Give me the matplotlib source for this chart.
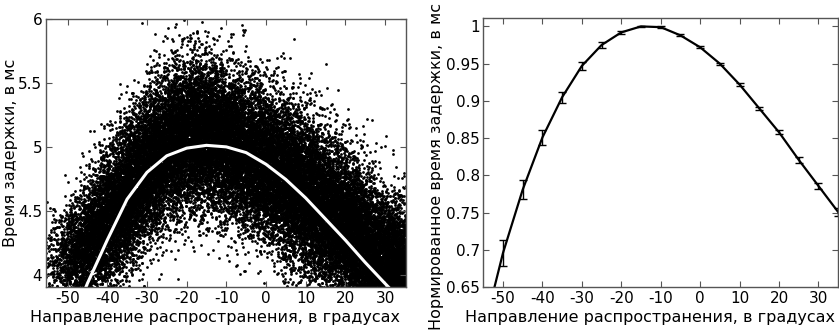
import numpy as np
import matplotlib
matplotlib.use("Agg")
import matplotlib.pyplot as plt
from matplotlib.ticker import FuncFormatter

# ---- data ----
# white mean curve on the left panel (ms)
mean_angles = [-50, -45, -40, -35, -30, -25, -20, -15, -10, -5, 0, 5, 10, 15, 20, 25, 30, 35]
mean_delay = [3.55, 3.93, 4.27, 4.59, 4.80, 4.93, 4.99, 5.012, 5.0, 4.955, 4.864,
              4.745, 4.60, 4.435, 4.27, 4.095, 3.93, 3.77]

# scatter cloud, per angle bin: cloud centre, spread and relative amount of points
cloud_angles = [-53, -48, -43, -38, -33, -28, -23, -18, -13, -8, -3, 2, 7, 12, 17, 22, 27, 32, 36]
cloud_centre = [4.1, 4.15, 4.3, 4.5, 4.72, 4.92, 5.05, 5.1, 5.08, 5.0, 4.92,
                4.82, 4.7, 4.58, 4.45, 4.3, 4.15, 4.05, 4.0]
cloud_spread = [0.18, 0.2, 0.23, 0.26, 0.28, 0.29, 0.29, 0.29, 0.29, 0.29, 0.29,
                0.29, 0.29, 0.29, 0.29, 0.28, 0.27, 0.25, 0.25]
cloud_weight = [0.12, 0.45, 0.8, 0.95, 1.0, 1.0, 1.0, 1.0, 1.0, 1.0, 1.0,
                1.05, 1.1, 1.1, 1.1, 1.1, 1.05, 1.0, 0.8]

# normalised delay with error bars on the right panel
norm_angles = [-55, -50, -45, -40, -35, -30, -25, -20, -15, -10, -5, 0, 5, 10, 15, 20, 25, 30, 35]
norm_delay = [0.59, 0.696, 0.781, 0.851, 0.905, 0.947, 0.975, 0.992, 1.0, 0.999, 0.988,
              0.972, 0.950, 0.922, 0.890, 0.858, 0.821, 0.786, 0.751]
norm_err = [0.02, 0.017, 0.013, 0.010, 0.0075, 0.005, 0.0035, 0.0025, 0.0012, 0.0012, 0.0012,
            0.0015, 0.0015, 0.002, 0.0025, 0.003, 0.004, 0.0045, 0.005]

xlabel = "Направление распространения, в градусах"

# the single points of the cloud cannot be read, so they are drawn
# around the read centre/spread of each bin (fixed seed)
rng = np.random.default_rng(3)
xs, ys = [], []
for a, c, s, w in zip(cloud_angles, cloud_centre, cloud_spread, cloud_weight):
    n = int(2000 * w)
    xs.append(a + rng.normal(0, 2.2, n))
    ys.append(c + rng.normal(0, s, n))
xs = np.concatenate(xs)
ys = np.concatenate(ys)

plt.rcParams['font.family'] = ['DejaVu Sans']
plt.rcParams['axes.unicode_minus'] = False
fig = plt.figure(figsize=(8.39, 3.31), dpi=100)

def style_axes(ax):
    ax.tick_params(direction='in', top=True, right=True, length=4, width=0.8,
                   colors='#555555', labelcolor='black', labelsize=11, pad=2.5)
    for sp in ax.spines.values():
        sp.set_color('#555555')
        sp.set_linewidth(1.0)
    ax.yaxis.set_major_formatter(FuncFormatter(lambda v, p: f"{v:g}"))

# left panel
ax1 = fig.add_axes([0.0545, 0.132, 0.429, 0.810])
ax1.scatter(xs, ys, s=4, c='black', linewidths=0)
ax1.plot(mean_angles, mean_delay, color='white', lw=2.2, solid_joinstyle='round')
ax1.set_xlim(-55.5, 35.2)
ax1.set_ylim(3.9, 6.0)
ax1.set_xticks(range(-50, 31, 10))
ax1.set_yticks([4, 4.5, 5, 5.5, 6])
ax1.set_xlabel(xlabel, fontsize=11.5)
ax1.set_ylabel("Время задержки, в мс", fontsize=11.5)
ax1.xaxis.set_label_coords(0.47, -0.085)
ax1.yaxis.set_label_coords(-0.078, 0.5)
style_axes(ax1)

# right panel
ax2 = fig.add_axes([0.576, 0.132, 0.423, 0.813])
ax2.errorbar(norm_angles, norm_delay, yerr=norm_err, color='black', lw=1.6,
             elinewidth=1.0, capsize=3, capthick=1.0)
ax2.set_xlim(-55, 35)
ax2.set_ylim(0.65, 1.011)
ax2.set_xticks(range(-50, 31, 10))
ax2.set_yticks([0.65, 0.7, 0.75, 0.8, 0.85, 0.9, 0.95, 1.0])
ax2.set_xlabel(xlabel, fontsize=11.5)
ax2.set_ylabel("Нормированное время задержки, в мс", fontsize=11.5)
ax2.xaxis.set_label_coords(0.47, -0.085)
ax2.yaxis.set_label_coords(-0.111, 0.45)
style_axes(ax2)

fig.savefig("out.png", dpi=100)
